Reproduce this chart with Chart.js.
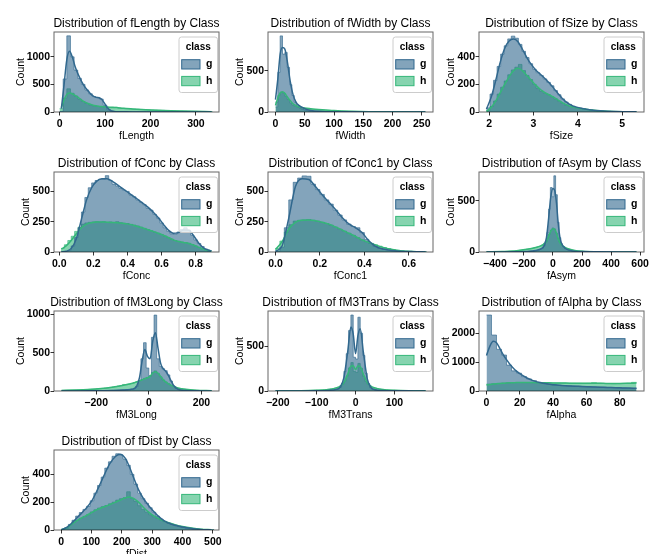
<!DOCTYPE html>
<html><head><meta charset="utf-8">
<script src="https://cdn.jsdelivr.net/npm/chart.js@4.4.1/dist/chart.umd.min.js"></script>
<style>
html,body{margin:0;padding:0;background:#fff;width:659px;height:554px;overflow:hidden;}
canvas{position:absolute;}
</style></head><body>
<script>
// ---------------- DATA ----------------
const classes = ["g", "h"];

// fLength
const fLengthBins = [4,12,20,28,36,44,52,60,68,76,84,92,100,108,116,124,132,140,148,156,164,172,180,188,196,204,212,220,228,236,244,252,260,268,276,284,292,300,308,316,324,332];
const fLengthG = [10,600,1380,1000,760,610,500,400,330,280,265,235,125,40,10,4,2,1,1,1,1,1,1,1,0,0,0,0,0,0,0,0,0,0,0,0,0,0,0,0,0,0];
const fLengthH = [60,250,420,340,290,235,190,155,128,112,100,95,90,80,76,85,72,66,62,58,54,50,46,43,40,37,34,31,29,27,25,23,21,19,17,15,13,12,10,8,6,4];
const fLengthKdeX = [4,10,16,22,28,34,40,48,56,64,72,80,86,92,98,104,110,118,125,140,160,180,200,230,260,290,334];
const fLengthKdeG = [60,500,950,1100,1000,830,700,560,450,370,300,265,260,235,170,90,40,12,6,4,2,2,1,1,1,0,0];
const fLengthKdeH = [80,220,320,345,330,300,270,220,180,150,128,112,104,98,93,90,87,84,82,68,56,46,38,28,20,13,4];
const fLengthXTicks = [0,100,200,300];
const fLengthYTicks = [0,500,1000];

// fWidth
const fWidthBins = [2,6,10,14,18,22,26,30,34,38,42,46,50,54,58,62,66,70,74,78,82,86,90,94,98,102,106,110,114,118,122,126,130,134,138,142,146,150,154,158,162,166,170,174,178,182,186,190,194,198,202,206,210,214,218,222,226,230,234,238,242,246,250,254];
const fWidthG = [120,480,920,700,720,540,330,200,120,75,50,35,25,18,13,10,8,6,5,4,3,3,2,2,2,1,1,1,1,1,0,0,0,0,0,0,0,0,0,0,0,0,0,0,0,0,0,0,0,0,0,0,0,0,0,0,0,0,0,0,0,0,0,0];
const fWidthH = [60,200,240,230,190,150,110,85,70,60,52,46,42,38,35,32,29,27,25,23,21,19,17,15,14,12,11,10,9,8,7,6,6,5,5,4,4,3,3,3,2,2,2,2,1,1,1,1,1,1,0,0,0,0,0,0,0,0,0,0,0,0,0,0];
const fWidthKdeX = [0,4,8,12,16,20,25,30,35,40,50,60,80,100,130,160,200,256];
const fWidthKdeG = [150,400,700,780,760,620,380,210,120,80,40,18,7,4,2,1,0,0];
const fWidthKdeH = [80,170,230,245,225,185,140,100,78,64,48,40,28,18,9,4,2,0];
const fWidthXTicks = [0,50,100,150,200,250];
const fWidthYTicks = [0,500];

// fSize
const fSizeBins = [1.98,2.06,2.14,2.22,2.30,2.38,2.46,2.54,2.62,2.70,2.78,2.86,2.94,3.02,3.10,3.18,3.26,3.34,3.42,3.50,3.58,3.66,3.74,3.82,3.90,3.98,4.06,4.14,4.22,4.30,4.38,4.46,4.54,4.62,4.70,4.78,4.86,4.94,5.02,5.10,5.18,5.26];
const fSizeG = [30,130,230,330,420,480,530,550,535,490,440,395,350,310,285,265,240,215,190,155,125,95,72,55,42,33,27,22,18,14,11,9,7,5,4,3,3,2,2,1,1,1];
const fSizeH = [10,40,80,130,180,225,270,305,325,345,300,265,235,200,170,150,135,125,110,95,78,62,50,42,35,30,26,22,18,15,12,10,8,6,5,4,3,3,2,1,1,1];
const fSizeKdeX = [1.94,2.05,2.15,2.25,2.35,2.45,2.55,2.65,2.75,2.85,2.95,3.05,3.15,3.25,3.35,3.45,3.55,3.65,3.75,3.85,3.95,4.1,4.3,4.5,4.8,5.1,5.32];
const fSizeKdeG = [20,110,230,360,460,515,530,510,455,395,345,305,275,245,212,175,135,98,70,50,37,25,15,9,4,2,1];
const fSizeKdeH = [5,35,80,140,200,255,300,318,300,265,230,195,165,142,125,108,88,68,52,40,32,23,15,9,4,2,1];
const fSizeXTicks = [2,3,4,5];
const fSizeYTicks = [0,200,400];

// fConc
const fConcBins = [0.02,0.04,0.06,0.08,0.10,0.12,0.14,0.16,0.18,0.20,0.22,0.24,0.26,0.28,0.30,0.32,0.34,0.36,0.38,0.40,0.42,0.44,0.46,0.48,0.50,0.52,0.54,0.56,0.58,0.60,0.62,0.64,0.66,0.68,0.70,0.72,0.74,0.76,0.78,0.80,0.82,0.84,0.86,0.88];
const fConcG = [0,2,15,50,120,200,330,450,530,570,590,600,600,630,590,560,545,525,510,500,470,455,430,410,390,360,345,310,280,240,200,170,150,145,165,185,200,180,140,100,70,45,25,10];
const fConcH = [30,60,95,130,170,205,230,240,245,248,250,248,250,245,248,244,250,242,238,235,228,222,215,205,195,185,175,165,155,145,132,118,105,95,88,82,78,72,62,50,38,26,15,6];
const fConcKdeX = [0.013,0.04,0.07,0.10,0.13,0.16,0.19,0.22,0.25,0.28,0.31,0.34,0.37,0.40,0.43,0.46,0.49,0.52,0.55,0.58,0.61,0.64,0.67,0.70,0.73,0.76,0.79,0.82,0.85,0.893];
const fConcKdeG = [2,6,30,110,270,430,530,585,605,605,585,555,525,495,465,435,402,370,330,285,230,180,155,160,182,180,130,70,30,8];
const fConcKdeH = [25,50,95,150,200,230,242,247,248,246,244,242,238,232,222,210,198,184,170,155,138,120,100,86,78,70,56,38,20,8];
const fConcXTicks = [0,0.2,0.4,0.6,0.8];
const fConcYTicks = [0,250,500];

// fConc1
const fConc1Bins = [0.01,0.03,0.05,0.07,0.09,0.11,0.13,0.15,0.17,0.19,0.21,0.23,0.25,0.27,0.29,0.31,0.33,0.35,0.37,0.39,0.41,0.43,0.45,0.47,0.49,0.51,0.53,0.55,0.57,0.59,0.61,0.63,0.65,0.67];
const fConc1G = [5,40,200,430,575,610,628,625,560,515,475,430,395,345,305,265,230,210,200,160,105,70,45,32,22,15,11,8,6,4,3,2,1,1];
const fConc1H = [30,90,165,225,255,262,265,268,262,255,245,235,222,205,188,172,155,138,118,100,85,72,60,48,37,28,20,14,10,7,5,3,2,1];
const fConc1KdeX = [0.0,0.03,0.06,0.09,0.12,0.15,0.18,0.21,0.24,0.27,0.30,0.33,0.36,0.39,0.42,0.45,0.48,0.52,0.56,0.62,0.675];
const fConc1KdeG = [5,50,280,540,605,598,540,472,412,350,285,232,200,160,92,46,26,13,7,3,1];
const fConc1KdeH = [20,85,190,245,262,265,258,246,230,207,182,155,128,100,78,58,40,22,11,4,1];
const fConc1XTicks = [0,0.2,0.4,0.6];
const fConc1YTicks = [0,250,500];

// fAsym
const fAsymBins = [-300,-288,-276,-264,-252,-240,-228,-216,-204,-192,-180,-168,-156,-144,-132,-120,-108,-96,-84,-72,-60,-48,-36,-24,-12,0,12,24,36,48,60,72,84,96,108,120,132,144,156,168,180,192,204,216,228,240,252,264,276,288,300];
const fAsymG = [1,1,1,2,2,2,3,3,4,4,5,6,7,8,10,13,16,21,28,38,60,100,190,420,630,540,745,560,290,140,80,55,38,26,18,13,10,8,6,5,4,3,3,2,2,2,1,1,1,1,1];
const fAsymH = [7,8,9,10,12,14,16,18,21,24,27,30,33,36,40,44,48,53,60,70,85,105,135,175,215,235,225,185,135,95,68,52,42,34,28,23,19,16,13,11,9,8,7,6,5,4,4,3,3,2,2];
const fAsymKdeX = [-458,-350,-250,-180,-120,-80,-60,-45,-30,-15,0,12,24,36,48,60,80,110,150,200,300,575];
const fAsymKdeG = [0,1,3,5,14,32,65,140,330,540,620,600,480,280,140,80,42,18,7,4,2,0];
const fAsymKdeH = [2,5,12,26,44,62,80,100,155,205,228,222,185,130,90,68,48,30,16,8,3,0];
const fAsymXTicks = [-400,-200,0,200,400,600];
const fAsymYTicks = [0,500];

// fM3Long
const fM3LongBins = [-325,-315,-305,-295,-285,-275,-265,-255,-245,-235,-225,-215,-205,-195,-185,-175,-165,-155,-145,-135,-125,-115,-105,-95,-85,-75,-65,-55,-45,-35,-25,-15,-5,5,15,25,35,45,55,65,75,85,95,105,115,125,135,145,155,165,175,185,195,205,215,225,235];
const fM3LongG = [0,0,1,1,1,1,1,2,2,2,3,3,3,4,4,5,5,6,7,8,9,10,12,14,16,19,24,35,60,140,420,630,300,200,700,990,420,320,290,265,210,130,65,32,16,9,6,4,3,2,2,1,1,1,0,0,0];
const fM3LongH = [8,9,10,11,12,13,14,15,17,19,21,23,25,28,31,34,38,42,47,52,58,65,72,85,82,88,98,110,122,135,150,165,175,195,240,262,230,185,145,118,95,75,58,45,36,29,23,19,15,12,10,8,6,5,4,3,2];
const fM3LongKdeX = [-332,-280,-230,-180,-140,-100,-70,-55,-45,-35,-25,-15,-5,5,15,25,35,45,55,65,75,85,95,110,140,180,238];
const fM3LongKdeG = [0,1,2,4,7,12,20,32,70,180,400,540,450,420,650,760,560,360,290,255,200,130,68,25,6,2,0];
const fM3LongKdeH = [8,13,20,32,48,72,94,108,120,132,145,160,172,190,235,252,232,190,148,115,92,74,58,40,22,10,3];
const fM3LongXTicks = [-200,0,200];
const fM3LongYTicks = [0,500,1000];

// fM3Trans
const fM3TransBins = [-201,-195,-189,-183,-177,-171,-165,-159,-153,-147,-141,-135,-129,-123,-117,-111,-105,-99,-93,-87,-81,-75,-69,-63,-57,-51,-45,-39,-33,-27,-21,-15,-9,-3,3,9,15,21,27,33,39,45,51,57,63,69,75,81,87,93,99,105,111,117,123,129,135,141,147,153,159,165,171,177];
const fM3TransG = [0,0,0,0,1,1,1,1,1,1,1,1,2,2,2,2,3,3,4,4,5,6,7,9,11,15,22,40,90,220,420,680,855,380,360,830,650,400,200,85,38,20,14,10,8,6,5,4,4,3,3,2,2,2,1,1,1,1,1,1,0,0,0,0];
const fM3TransH = [1,1,1,2,2,2,2,3,3,3,4,4,5,5,6,7,8,9,10,12,14,16,19,23,28,34,42,55,75,110,170,260,320,220,210,310,255,165,108,74,54,41,33,27,22,18,15,13,11,9,8,7,6,5,5,4,4,3,3,2,2,2,1,1];
const fM3TransKdeX = [-206,-150,-100,-70,-50,-40,-30,-20,-12,-6,0,6,12,20,30,40,50,70,100,150,180];
const fM3TransKdeG = [0,1,3,7,18,40,150,450,720,640,420,620,700,440,140,38,15,6,3,1,0];
const fM3TransKdeH = [1,3,8,17,35,52,95,190,280,285,240,280,275,190,95,52,35,17,8,3,1];
const fM3TransXTicks = [-200,-100,0,100];
const fM3TransYTicks = [0,500];

// fAlpha
const fAlphaBins = [1.5,4.5,7.5,10.5,13.5,16.5,19.5,22.5,25.5,28.5,31.5,34.5,37.5,40.5,43.5,46.5,49.5,52.5,55.5,58.5,61.5,64.5,67.5,70.5,73.5,76.5,79.5,82.5,85.5,88.5];
const fAlphaG = [2640,1945,1450,1250,900,700,620,500,420,360,300,265,235,215,200,190,180,172,165,158,150,143,136,130,124,118,110,104,97,90];
const fAlphaH = [240,250,265,275,285,290,295,292,290,288,285,282,280,278,276,274,272,270,268,266,268,290,270,262,258,255,258,262,270,300];
const fAlphaKdeX = [0,2,4,6,8,10,12,14,16,18,20,24,28,32,36,40,45,50,55,60,65,70,75,80,85,90];
const fAlphaKdeG = [1235,1550,1730,1680,1480,1260,1090,930,800,690,600,460,360,295,250,220,195,178,165,152,140,130,120,110,100,92];
const fAlphaKdeH = [210,228,240,252,262,270,278,284,288,292,295,295,292,288,284,280,276,272,268,268,270,266,262,262,268,275];
const fAlphaXTicks = [0,20,40,60,80];
const fAlphaYTicks = [0,1000,2000];

// fDist
const fDistBins = [6,18,30,42,54,66,78,90,102,114,126,138,150,162,174,186,198,210,222,234,246,258,270,282,294,306,318,330,342,354,366,378,390,402,414,426,438,450,462,474,486,498];
const fDistG = [3,15,40,70,100,125,148,170,210,265,320,380,445,490,530,548,540,510,465,400,330,265,225,192,160,128,100,78,62,50,40,32,25,19,14,10,7,5,3,2,1,1];
const fDistH = [2,12,35,55,70,85,98,110,130,145,158,168,176,188,200,215,225,232,275,228,205,175,148,128,110,96,84,72,60,50,42,35,28,22,17,13,10,7,5,3,2,1];
const fDistKdeX = [1,20,40,60,80,100,120,140,160,180,195,210,225,240,255,270,285,300,320,340,360,380,400,430,460,495];
const fDistKdeG = [2,20,60,105,150,205,290,385,475,530,545,520,455,370,290,230,185,145,100,66,45,32,21,10,4,1];
const fDistKdeH = [3,18,50,78,100,125,148,165,182,200,215,230,238,225,200,165,135,108,84,64,48,35,25,14,6,2];
const fDistXTicks = [0,100,200,300,400,500];
const fDistYTicks = [0,200,400];

// ---------------- LAYOUT / STYLE ----------------
const FONT = "'Liberation Sans', Arial, sans-serif";
const G_RGB = '49,104,142';
const H_RGB = '53,183,121';
const ALPHA = 0.6;
const COL_LEFT = [54, 268, 479];
const ROW_TOP = [32, 172, 311, 450];
const PW = 165, PH = 80, LM = 54, TM = 22, BM = 32, RM = 12;

function fmt(v, dec) {
  const s = Math.abs(v).toFixed(dec);
  return (v < 0 ? '\u2212' : '') + s;
}
function pts(xs, ys) { return xs.map((x, i) => ({x: x, y: ys[i]})); }
// histogram outline: each bin drawn from its left edge to its right edge (step shape)
function histPts(centers, counts) {
  const w = centers[1] - centers[0];
  const out = centers.map((c, i) => ({x: c - w / 2, y: counts[i]}));
  out.push({x: centers[centers.length - 1] + w / 2, y: counts[counts.length - 1]});
  return out;
}

const overlay = {
  id: 'overlay',
  afterDraw(chart) {
    const o = chart.options.plugins.overlay;
    const ctx = chart.ctx, a = chart.chartArea;
    ctx.save();
    ctx.strokeStyle = 'rgba(0,0,0,0.6)';
    ctx.lineWidth = 1;
    ctx.strokeRect(a.left, a.top, a.right - a.left, a.bottom - a.top);
    ctx.fillStyle = '#000';
    ctx.font = '12px ' + FONT;
    ctx.textAlign = 'center';
    ctx.textBaseline = 'middle';
    ctx.fillText(o.title, (a.left + a.right) / 2, a.top - 8.8);
    // legend
    const bw = 38.5, bh = 55.5;
    const bx = a.right - 1.5 - bw, by = a.top + 5;
    ctx.beginPath();
    if (ctx.roundRect) ctx.roundRect(bx, by, bw, bh, 2.5); else ctx.rect(bx, by, bw, bh);
    ctx.fillStyle = 'rgba(255,255,255,0.8)';
    ctx.fill();
    ctx.strokeStyle = '#cccccc';
    ctx.lineWidth = 1;
    ctx.stroke();
    ctx.fillStyle = '#000';
    ctx.font = 'bold 10px ' + FONT;
    ctx.fillText('class', bx + bw / 2, by + 10);
    const rgbs = [G_RGB, H_RGB];
    classes.forEach((c, i) => {
      const py = by + 22.7 + i * 16.7;
      ctx.fillStyle = 'rgba(' + rgbs[i] + ',' + ALPHA + ')';
      ctx.fillRect(bx + 2.7, py, 18.3, 9.3);
      ctx.strokeStyle = 'rgb(' + rgbs[i] + ')';
      ctx.lineWidth = 1;
      ctx.strokeRect(bx + 2.7, py, 18.3, 9.3);
      ctx.fillStyle = '#000';
      ctx.font = 'bold 10.5px ' + FONT;
      ctx.textAlign = 'left';
      ctx.fillText(c, bx + 27, py + 4.8);
      ctx.textAlign = 'center';
    });
    ctx.restore();
  }
};

function makeChart(s) {
  const cv = document.createElement('canvas');
  const W = LM + PW + RM, H = TM + PH + BM;
  cv.width = W; cv.height = H;
  cv.style.width = W + 'px'; cv.style.height = H + 'px';
  cv.style.left = (COL_LEFT[s.col] - LM) + 'px';
  cv.style.top = (ROW_TOP[s.row] - TM) + 'px';
  document.body.appendChild(cv);
  const histCommon = {type: 'line', stepped: true, fill: 'origin', pointRadius: 0, borderWidth: 0.7};
  const lineCommon = {type: 'line', pointRadius: 0, borderWidth: 1.5, fill: false, cubicInterpolationMode: 'monotone'};
  new Chart(cv, {
    type: 'line',
    data: {
      datasets: [
        Object.assign({}, lineCommon, {label: 'kde g', data: pts(s.kx, s.kg), borderColor: 'rgb(' + G_RGB + ')', order: 0}),
        Object.assign({}, lineCommon, {label: 'kde h', data: pts(s.kx, s.kh), borderColor: 'rgb(' + H_RGB + ')', order: 1}),
        Object.assign({}, histCommon, {label: classes[0], data: histPts(s.bins, s.g), backgroundColor: 'rgba(' + G_RGB + ',' + ALPHA + ')', borderColor: 'rgba(' + G_RGB + ',0.9)', order: 2}),
        Object.assign({}, histCommon, {label: classes[1], data: histPts(s.bins, s.h), backgroundColor: 'rgba(' + H_RGB + ',' + ALPHA + ')', borderColor: 'rgba(' + H_RGB + ',0.9)', order: 3})
      ]
    },
    options: {
      responsive: false, animation: false, devicePixelRatio: 1, events: [],
      layout: {padding: {top: TM, right: RM, left: 0, bottom: 0}},
      plugins: {legend: {display: false}, tooltip: {enabled: false}, overlay: {title: 'Distribution of ' + s.name + ' by Class'}},
      scales: {
        x: {
          type: 'linear', min: s.xMin, max: s.xMax, offset: false,
          grid: {display: true, drawOnChartArea: false, drawTicks: true, tickLength: 3.5, color: '#000', lineWidth: 0.8, offset: false},
          border: {display: false},
          ticks: {font: {family: FONT, size: 10.5, weight: 'bold'}, color: '#000', padding: 2, maxRotation: 0, autoSkip: false,
                  callback: (v) => fmt(v, s.dec)},
          afterBuildTicks: (sc) => { sc.ticks = s.xt.map(v => ({value: v})); },
          afterFit: (sc) => { sc.height = BM; sc.paddingLeft = 0; sc.paddingRight = 0; },
          title: {display: true, text: s.name, font: {family: FONT, size: 10.5}, color: '#000', padding: {top: 0, bottom: 1.5}}
        },
        y: {
          type: 'linear', min: 0, max: s.yMax,
          grid: {display: true, drawOnChartArea: false, drawTicks: true, tickLength: 3.5, color: '#000', lineWidth: 0.8},
          border: {display: false},
          ticks: {font: {family: FONT, size: 10.5, weight: 'bold'}, color: '#000', padding: 0.5, autoSkip: false,
                  callback: (v) => fmt(v, 0)},
          afterBuildTicks: (sc) => { sc.ticks = s.yt.map(v => ({value: v})); },
          afterFit: (sc) => { sc.width = LM; sc.paddingTop = 0; sc.paddingBottom = 0; },
          title: {display: true, text: 'Count', font: {family: FONT, size: 10.5}, color: '#000', padding: {top: s.yPad, bottom: 0}}
        }
      }
    },
    plugins: [overlay]
  });
}

const specs = [
  {name: 'fLength', row: 0, col: 0, bins: fLengthBins, g: fLengthG, h: fLengthH, kx: fLengthKdeX, kg: fLengthKdeG, kh: fLengthKdeH, xt: fLengthXTicks, yt: fLengthYTicks, xMin: -12.2, xMax: 350.7, yMax: 1450, dec: 0, yPad: 14.7},
  {name: 'fWidth', row: 0, col: 1, bins: fWidthBins, g: fWidthG, h: fWidthH, kx: fWidthKdeX, kg: fWidthKdeG, kh: fWidthKdeH, xt: fWidthXTicks, yt: fWidthYTicks, xMin: -12.8, xMax: 269.2, yMax: 967, dec: 0, yPad: 19.7},
  {name: 'fSize', row: 0, col: 2, bins: fSizeBins, g: fSizeG, h: fSizeH, kx: fSizeKdeX, kg: fSizeKdeG, kh: fSizeKdeH, xt: fSizeXTicks, yt: fSizeYTicks, xMin: 1.772, xMax: 5.49, yMax: 580, dec: 0, yPad: 19.7},
  {name: 'fConc', row: 1, col: 0, bins: fConcBins, g: fConcG, h: fConcH, kx: fConcKdeX, kg: fConcKdeG, kh: fConcKdeH, xt: fConcXTicks, yt: fConcYTicks, xMin: -0.031, xMax: 0.937, yMax: 660, dec: 1, yPad: 19.7},
  {name: 'fConc1', row: 1, col: 1, bins: fConc1Bins, g: fConc1G, h: fConc1H, kx: fConc1KdeX, kg: fConc1KdeG, kh: fConc1KdeH, xt: fConc1XTicks, yt: fConc1YTicks, xMin: -0.0334, xMax: 0.7087, yMax: 660, dec: 1, yPad: 19.7},
  {name: 'fAsym', row: 1, col: 2, bins: fAsymBins, g: fAsymG, h: fAsymH, kx: fAsymKdeX, kg: fAsymKdeG, kh: fAsymKdeH, xt: fAsymXTicks, yt: fAsymYTicks, xMin: -509.6, xMax: 626.9, yMax: 782, dec: 0, yPad: 19.7},
  {name: 'fM3Long', row: 2, col: 0, bins: fM3LongBins, g: fM3LongG, h: fM3LongH, kx: fM3LongKdeX, kg: fM3LongKdeG, kh: fM3LongKdeH, xt: fM3LongXTicks, yt: fM3LongYTicks, xMin: -360.3, xMax: 266.8, yMax: 1043, dec: 0, yPad: 14.7},
  {name: 'fM3Trans', row: 2, col: 1, bins: fM3TransBins, g: fM3TransG, h: fM3TransH, kx: fM3TransKdeX, kg: fM3TransKdeG, kh: fM3TransKdeH, xt: fM3TransXTicks, yt: fM3TransYTicks, xMin: -225.2, xMax: 199.2, yMax: 900, dec: 0, yPad: 19.7},
  {name: 'fAlpha', row: 2, col: 2, bins: fAlphaBins, g: fAlphaG, h: fAlphaH, kx: fAlphaKdeX, kg: fAlphaKdeG, kh: fAlphaKdeH, xt: fAlphaXTicks, yt: fAlphaYTicks, xMin: -4.5, xMax: 94.5, yMax: 2780, dec: 0, yPad: 14.7},
  {name: 'fDist', row: 3, col: 0, bins: fDistBins, g: fDistG, h: fDistH, kx: fDistKdeX, kg: fDistKdeG, kh: fDistKdeH, xt: fDistXTicks, yt: fDistYTicks, xMin: -23.4, xMax: 520.3, yMax: 575, dec: 0, yPad: 19.7}
];
specs.forEach(makeChart);
</script>
</body></html>
